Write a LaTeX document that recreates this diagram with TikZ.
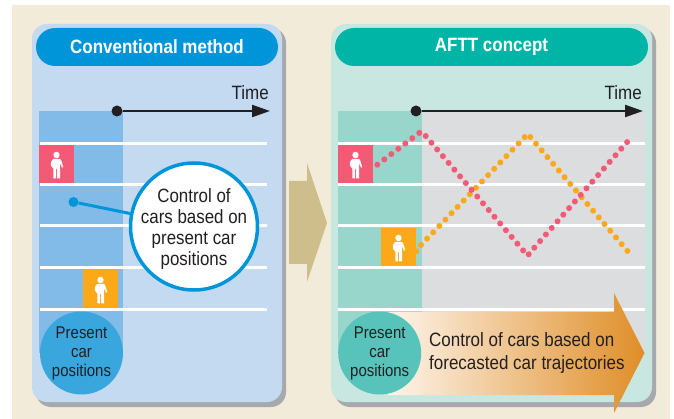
\documentclass[tikz,border=0pt]{standalone}
\usepackage{fontspec}
\usetikzlibrary{arrows.meta,shadings}
\setmainfont{Liberation Sans}
\newfontfamily\narrowf[FakeStretch=0.88]{Liberation Sans}
\definecolor{cream}{HTML}{F3EBD9}
\definecolor{shadowgr}{HTML}{A7A9AC}
\definecolor{panelblue}{HTML}{C3DAF1}
\definecolor{areablue}{HTML}{82BAE8}
\definecolor{headblue}{HTML}{0095D9}
\definecolor{circblue}{HTML}{39A6DE}
\definecolor{panelteal}{HTML}{C8E7E1}
\definecolor{areateal}{HTML}{98D6CC}
\definecolor{headteal}{HTML}{00B5A5}
\definecolor{circteal}{HTML}{58C3BA}
\definecolor{greyarea}{HTML}{DCDDDF}
\definecolor{carred}{HTML}{F25A75}
\definecolor{carorange}{HTML}{FBA919}
\definecolor{arrowtan}{HTML}{CDBE8B}
\definecolor{inkc}{HTML}{231F20}
\definecolor{gradend}{HTML}{DF8E27}
\definecolor{gradstart}{HTML}{FEF5EC}
\tikzset{
  x=1pt,y=-1pt,
  panelbox/.style={rectangle,rounded corners=15pt,draw=none,inner sep=0pt},
  headerbox/.style={rectangle,rounded corners=19pt,draw=none,inner sep=0pt,minimum height=38pt,
    text=white,font=\narrowf\bfseries\fontsize{19.3}{22}\selectfont},
  lane/.style={white,line width=3pt},
  timedot/.style={circle,fill=inkc,inner sep=0pt,minimum size=11pt},
  timearrow/.style={inkc,line width=2.2pt,-{Triangle[length=18pt,width=12pt]}},
  timelabel/.style={inner sep=0pt,anchor=base east,text=inkc,font=\narrowf\fontsize{19.3}{22}\selectfont},
  carbox/.style={rectangle,inner sep=0pt,minimum width=35pt,minimum height=38pt},
  presentcirc/.style={circle,inner sep=0pt,minimum size=83pt},
  presenttext/.style={inner sep=0pt,align=center,text=inkc,font=\narrowf\fontsize{17}{19.2}\selectfont},
  reddot/.style={fill=carred},
  orangedot/.style={fill=carorange},
  person/.pic={
    \fill[white] (0,-9) circle (3.2);
    \fill[white] (-3.2,-5.2) .. controls (-5.4,-3.6) and (-6.6,-0.5) .. (-5.6,1.5)
      .. controls (-5,3) and (-3.6,3.6) .. (-3.2,4.5)
      -- (-3.2,14.5) -- (-0.5,14.5) -- (-0.5,5) -- (0.5,5) -- (0.5,14.5) -- (3.6,14.5) -- (3.6,1.5)
      -- (4,-0.8) -- (5.4,3.6) -- (6.8,3.2) -- (4.6,-4) .. controls (4.2,-5) and (3.6,-5.2) .. (3,-5.2) -- cycle;
  }
}
\begin{document}
\begin{tikzpicture}
\useasboundingbox (0,0) rectangle (674,419);
\fill[white] (0,0) rectangle (674,419);
\fill[cream] (12,5) rectangle (670,419);

% ---------- left panel
\fill[shadowgr,rounded corners=15pt] (36,28) rectangle (286,407);
\node[panelbox,fill=panelblue,minimum width=250pt,minimum height=378pt] (lpanel) at (157,213) {};
\node[headerbox,fill=headblue,minimum width=242pt] (lhead) at (157,47) {Conventional method};
\fill[areablue] (39,111) rectangle (123,353);
\foreach \yy in {143.5,185,226,268,310} \draw[lane] (40,\yy) -- (267,\yy);
\node[carbox,fill=carred] (lred) at (56.5,164) {};
\pic at (lred) {person};
\node[carbox,fill=carorange] (lorange) at (100.5,289) {};
\pic at (lorange) {person};
\node[timedot] (lt0) at (117,111) {};
\coordinate (lt1) at (270,111);
\draw[timearrow] (lt0) -- (lt1);
\node[timelabel] (ltime) at (269,100) {Time};
\node[presentcirc,fill=circblue] (lpres) at (81.5,353) {};
\node[presenttext] (lprestext) at (81.5,353.5) {Present\\car\\positions};
\node[circle,fill=headblue,inner sep=0pt,minimum size=10pt] (lptr) at (73.5,202) {};
\node[circle,draw=headblue,line width=3.5pt,fill=white,inner sep=0pt,minimum size=127pt] (lctrl) at (194,226.5) {};
\node[inner sep=0pt,align=center,text=inkc,font=\narrowf\fontsize{19.2}{20.8}\selectfont] (lctrltext) at (194,229) {Control of\\cars based on\\present car\\positions};
\draw[headblue,line width=3pt] (lptr) -- (lctrl);

% ---------- central arrow
\fill[arrowtan] (289,181) -- (307,181) -- (307,163) -- (327,223) -- (307,282) -- (307,264) -- (289,264) -- cycle;

% ---------- right panel
\fill[shadowgr,rounded corners=15pt] (335,28) rectangle (656,407);
\node[panelbox,fill=panelteal,minimum width=321pt,minimum height=378pt] (rpanel) at (491.5,213) {};
\node[headerbox,fill=headteal,minimum width=313pt] (rhead) at (491.5,47) {AFTT concept};
\fill[areateal] (338,111) rectangle (422,353);
\fill[greyarea] (422,111) rectangle (645,353);
\foreach \yy in {143.5,185,226,268,310} \draw[lane] (338,\yy) -- (645,\yy);

% forecast trajectories
\foreach \i in {0,...,17} \fill[orangedot] ({421+6.1*\i},{245-6.35*\i}) circle (3);
\fill[orangedot] (416.3,251.3) circle (3);
\foreach \i in {0,...,17} \fill[orangedot] ({530.3+5.71*\i},{137+6.7*\i}) circle (3);
\foreach \i in {0,...,6} \fill[reddot] ({377.3+7*\i},{164.7-5.3*\i}) circle (3);
\foreach \i in {0,...,17} \fill[reddot] ({425.7+5.73*\i},{136+6.73*\i}) circle (3);
\fill[reddot] (528.7,254.3) circle (3);
\foreach \i in {0,...,16} \fill[reddot] ({534.3+5.8*\i},{247.7-6.6*\i}) circle (3);

\node[carbox,fill=carred] (rred) at (355.5,164) {};
\pic at (rred) {person};
\node[carbox,fill=carorange] (rorange) at (398.5,247) {};
\pic at (rorange) {person};
\node[timedot] (rt0) at (416,111) {};
\coordinate (rt1) at (643,111);
\draw[timearrow] (rt0) -- (rt1);
\node[timelabel] (rtime) at (642,100) {Time};

% gradient arrow
\shade[left color=gradstart,right color=gradend]
  (388,312) -- (614,312) -- (614,293) -- (644.5,353) -- (614,413) -- (614,395) -- (388,395) -- cycle;
\node[presentcirc,fill=circteal] (rpres) at (379.7,353) {};
\node[presenttext] (rprestext) at (379.7,353.5) {Present\\car\\positions};
\node[inner sep=0pt,anchor=base west,text=inkc,font=\narrowf\fontsize{19.3}{23}\selectfont] (rtxt1) at (429,346) {Control of cars based on};
\node[inner sep=0pt,anchor=base west,text=inkc,font=\narrowf\fontsize{19.3}{23}\selectfont] (rtxt2) at (429,369) {forecasted car trajectories};
\end{tikzpicture}
\end{document}
